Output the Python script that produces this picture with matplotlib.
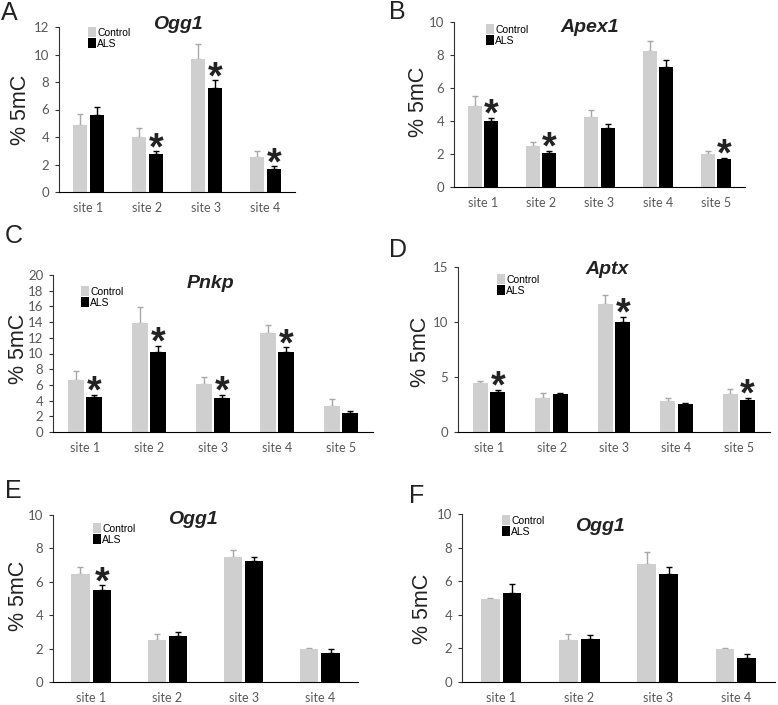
import matplotlib
matplotlib.use("Agg")
import matplotlib.pyplot as plt
import numpy as np
from matplotlib.patches import Patch

# ---------------- data ----------------
sites4 = ["site 1", "site 2", "site 3", "site 4"]
sites5 = ["site 1", "site 2", "site 3", "site 4", "site 5"]

A_ctrl = [4.88, 4.00, 9.64, 2.51]
A_ctrl_err = [0.80, 0.66, 1.16, 0.44]
A_als = [5.63, 2.73, 7.56, 1.69]
A_als_err = [0.53, 0.22, 0.58, 0.17]
A_sig = [0, 1, 1, 1]

B_ctrl = [4.89, 2.46, 4.24, 8.24, 2.02]
B_ctrl_err = [0.60, 0.27, 0.45, 0.59, 0.18]
B_als = [3.98, 2.04, 3.58, 7.27, 1.72]
B_als_err = [0.22, 0.16, 0.26, 0.45, 0.06]
B_sig = [1, 1, 0, 0, 1]

C_ctrl = [6.60, 13.90, 6.17, 12.55, 3.36]
C_ctrl_err = [1.14, 2.00, 0.89, 1.05, 0.81]
C_als = [4.47, 10.20, 4.38, 10.20, 2.47]
C_als_err = [0.30, 0.80, 0.39, 0.60, 0.25]
C_sig = [1, 1, 1, 1, 0]

D_ctrl = [4.41, 3.10, 11.60, 2.83, 3.50]
D_ctrl_err = [0.21, 0.49, 0.86, 0.30, 0.45]
D_als = [3.68, 3.43, 10.03, 2.52, 2.95]
D_als_err = [0.18, 0.16, 0.46, 0.15, 0.15]
D_sig = [1, 0, 1, 0, 1]

E_ctrl = [6.49, 2.49, 7.49, 2.00]
E_ctrl_err = [0.38, 0.40, 0.40, 0.02]
E_als = [5.52, 2.75, 7.23, 1.73]
E_als_err = [0.26, 0.25, 0.28, 0.26]
E_sig = [1, 0, 0, 0]

F_ctrl = [4.97, 2.49, 7.00, 1.98]
F_ctrl_err = [0.04, 0.39, 0.71, 0.04]
F_als = [5.29, 2.56, 6.44, 1.43]
F_als_err = [0.57, 0.22, 0.38, 0.22]
F_sig = [0, 0, 0, 0]

# ---------------- style ----------------
W, H = 778, 705
fig = plt.figure(figsize=(W / 100, H / 100), dpi=100)
CTRL_C = "#cfcfcf"
CTRL_E = "#a8a8a8"
ALS_C = "#000000"
TICK_FONT = "Lato"
ARIAL = "Liberation Sans"

def px(x, y):
    return x / W, 1 - y / H

def panel(letter, title, cats, ctrl, ctrl_err, als, als_err, sig, ymax, ystep,
          box, title_xy, letter_xy, ylabel_xy, leg_xy):
    l, r, t, b = box
    ax = fig.add_axes([l / W, 1 - b / H, (r - l) / W, (b - t) / H])
    n = len(cats)
    x = np.arange(n)
    w = 0.24
    off = 0.14
    ax.bar(x - off, ctrl, w, color=CTRL_C, zorder=2)
    ax.bar(x + off, als, w, color=ALS_C, zorder=2)
    ax.errorbar(x - off, ctrl, yerr=[np.zeros(n), ctrl_err], fmt="none",
                ecolor=CTRL_E, elinewidth=1, capsize=2.2, capthick=1, zorder=1)
    ax.errorbar(x + off, als, yerr=[np.zeros(n), als_err], fmt="none",
                ecolor="black", elinewidth=1, capsize=2.2, capthick=1, zorder=1)
    for i in range(n):
        if sig[i]:
            ax.annotate("*", xy=(x[i] + off, als[i] + als_err[i]),
                        xytext=(0, -8), textcoords="offset pixels",
                        ha="center", va="baseline", fontsize=27,
                        fontweight="bold", family=ARIAL, color="#222222",
                        annotation_clip=False)
    ax.set_xlim(-0.5, n - 0.5)
    ax.set_ylim(0, ymax)
    ax.set_yticks(np.arange(0, ymax + 0.01, ystep))
    ax.set_xticks(x)
    ax.set_xticklabels(cats)
    for s in ["top", "right"]:
        ax.spines[s].set_visible(False)
    ax.spines["left"].set_color("#333333")
    ax.spines["bottom"].set_color("black")
    ax.tick_params(axis="y", length=3, width=0.8, color="#333333", pad=4,
                   labelsize=9.5, labelcolor="#595959")
    ax.tick_params(axis="x", length=0, pad=7, labelsize=9, labelcolor="#595959")
    for lab in ax.get_xticklabels() + ax.get_yticklabels():
        lab.set_family(TICK_FONT)
    # legend
    lx, ly = px(*leg_xy)
    handles = [Patch(facecolor=CTRL_C, edgecolor="none", label="Control"),
               Patch(facecolor=ALS_C, edgecolor="none", label="ALS")]
    fig.legend(handles=handles, loc="upper left", bbox_to_anchor=(lx, ly),
               frameon=False, prop={"family": ARIAL, "size": 7.5},
               handlelength=0.75, handleheight=1.1, handletextpad=0.15,
               labelspacing=0.05, borderpad=0, borderaxespad=0)
    # title
    tx, ty = px(*title_xy)
    fig.text(tx, ty, title, ha="center", va="baseline", fontsize=14,
             fontweight="bold", fontstyle="italic", family=ARIAL, color="#222222")
    # letter
    Lx, Ly = px(*letter_xy)
    fig.text(Lx, Ly, letter, ha="left", va="baseline", fontsize=18,
             family=ARIAL, color="#222222")
    # ylabel
    yx, yy = px(*ylabel_xy)
    fig.text(yx, yy, "% 5mC", ha="center", va="center", rotation=90,
             fontsize=15.5, family=ARIAL, color="#222222")
    return ax

panel("A", "Ogg1", sites4, A_ctrl, A_ctrl_err, A_als, A_als_err, A_sig, 12, 2,
      (59, 295, 27, 192), (178, 29), (1, 20), (20, 110), (88, 27))
panel("B", "Apex1", sites5, B_ctrl, B_ctrl_err, B_als, B_als_err, B_sig, 10, 2,
      (454, 745, 22, 187), (590, 32), (389, 19), (418, 102), (486, 24))
panel("C", "Pnkp", sites5, C_ctrl, C_ctrl_err, C_als, C_als_err, C_sig, 20, 2,
      (53, 373, 275, 432), (210, 288), (5, 243), (18, 349), (81, 286))
panel("D", "Aptx", sites5, D_ctrl, D_ctrl_err, D_als, D_als_err, D_sig, 15, 5,
      (458, 770, 267, 432), (607, 274), (389, 257), (420, 352), (497, 274))
panel("E", "Ogg1", sites4, E_ctrl, E_ctrl_err, E_als, E_als_err, E_sig, 10, 2,
      (53, 358, 515, 682), (193, 524), (5, 498), (19, 596), (93, 523))
panel("F", "Ogg1", sites4, F_ctrl, F_ctrl_err, F_als, F_als_err, F_sig, 10, 2,
      (462, 775, 514, 682), (600, 531), (409, 503), (423, 609), (502, 515))

fig.savefig("out.png", dpi=100, facecolor="white")
